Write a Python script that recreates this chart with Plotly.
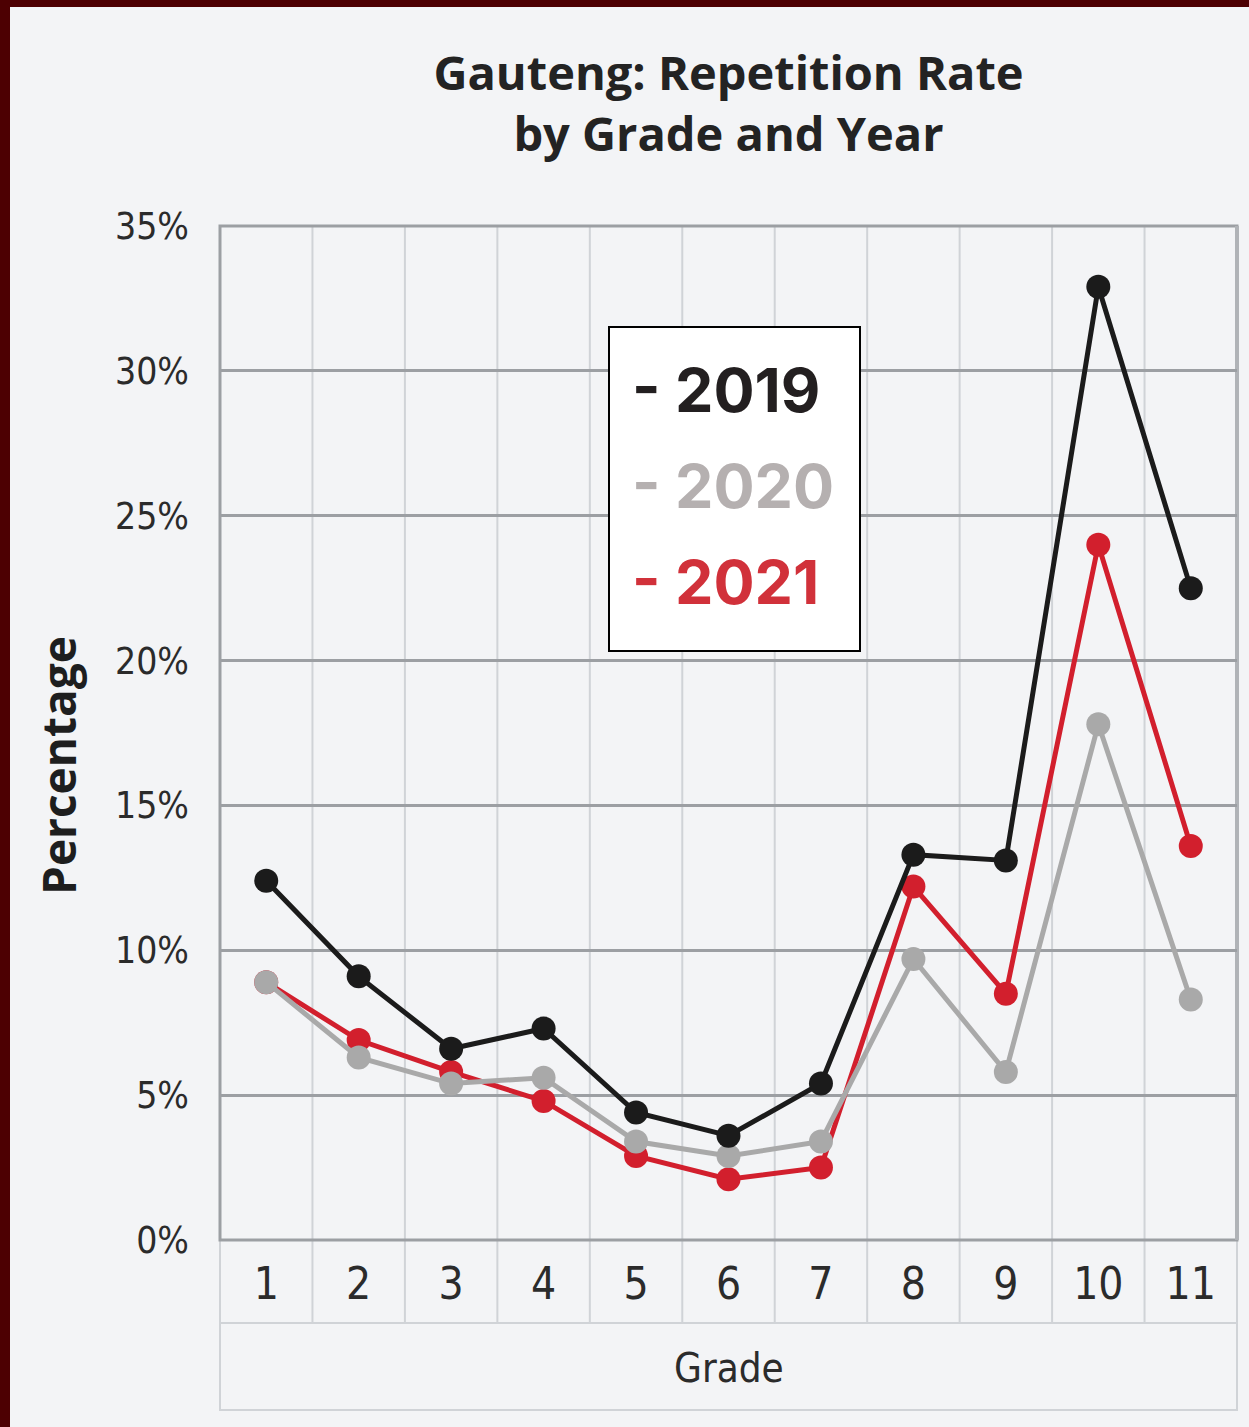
import plotly.graph_objects as go

# Repetition rate (%) by grade, Gauteng
grades = [1, 2, 3, 4, 5, 6, 7, 8, 9, 10, 11]
grade_labels = [str(g) for g in grades]
rate_2019 = [12.4, 9.1, 6.6, 7.3, 4.4, 3.6, 5.4, 13.3, 13.1, 32.9, 22.5]
rate_2020 = [8.9, 6.3, 5.4, 5.6, 3.4, 2.9, 3.4, 9.7, 5.8, 17.8, 8.3]
rate_2021 = [8.9, 6.9, 5.8, 4.8, 2.9, 2.1, 2.5, 12.2, 8.5, 24.0, 13.6]
y_ticks = [0, 5, 10, 15, 20, 25, 30, 35]

years = ["2019", "2020", "2021"]
colors = {"2019": "#1b1b1b", "2020": "#a9a9a9", "2021": "#d21f2d"}
legend_colors = {"2019": "#231f20", "2020": "#b5b0b0", "2021": "#d1313a"}
series = {"2019": rate_2019, "2020": rate_2020, "2021": rate_2021}

W, H = 1249, 1427
L, R, T, B = 220, 12, 226, 187
PW, PH = W - L - R, H - T - B


def px_x(px):
    return (px - L) / PW


def px_y(py):
    return (H - B - py) / PH


BG = "#f3f4f6"
COND = "DejaVu Sans Condensed, Liberation Sans Narrow, Arial Narrow, sans-serif"

fig = go.Figure()
for yr in ["2021", "2020", "2019"]:
    fig.add_trace(go.Scatter(
        x=grades, y=series[yr], mode="lines+markers", name=yr,
        line=dict(color=colors[yr], width=5),
        marker=dict(color=colors[yr], size=24),
        showlegend=False,
    ))

shapes = []
light = "#d0d3d7"
dark = "#9c9fa3"
# category separators, continuing down through the tick-label row
for g in grades[:-1]:
    shapes.append(dict(type="line", xref="paper", yref="paper",
                       x0=g / len(grades), x1=g / len(grades),
                       y0=px_y(1323), y1=1, layer="below",
                       line=dict(color=light, width=2)))
# tick-label row and axis-title row boxes
shapes.append(dict(type="line", xref="paper", yref="paper", x0=0, x1=1,
                   y0=px_y(1323), y1=px_y(1323), layer="below",
                   line=dict(color=light, width=2)))
shapes.append(dict(type="rect", xref="paper", yref="paper", x0=0, x1=1,
                   y0=px_y(1410), y1=0, layer="below",
                   line=dict(color=light, width=2)))
# plot frame
shapes.append(dict(type="rect", xref="paper", yref="paper", x0=0, x1=1,
                   y0=0, y1=1, layer="below",
                   line=dict(color=dark, width=3)))
shapes.append(dict(type="line", xref="paper", yref="paper", x0=1, x1=1,
                   y0=0, y1=1, layer="below",
                   line=dict(color="#b0b3b7", width=4)))
# legend box
shapes.append(dict(type="rect", xref="paper", yref="paper",
                   x0=px_x(609), x1=px_x(860), y0=px_y(651), y1=px_y(327),
                   layer="above", fillcolor="white",
                   line=dict(color="black", width=2)))
# page frame strips
shapes.append(dict(type="rect", xref="paper", yref="paper",
                   x0=px_x(-5), x1=px_x(10), y0=px_y(H + 5), y1=px_y(-5),
                   layer="above", fillcolor="#4d0002", line=dict(width=0)))
shapes.append(dict(type="rect", xref="paper", yref="paper",
                   x0=px_x(-5), x1=px_x(W + 5), y0=px_y(7), y1=px_y(-5),
                   layer="above", fillcolor="#4d0002", line=dict(width=0)))

annotations = []
for i, yr in enumerate(years):
    annotations.append(dict(
        xref="paper", yref="paper", x=px_x(630), y=px_y(390 + 96 * i),
        xanchor="left", yanchor="middle", showarrow=False,
        text=f"- {yr}",
        font=dict(family="Inter, Roboto, sans-serif", size=61,
                  color=legend_colors[yr], weight=700),
    ))
annotations.append(dict(
    xref="paper", yref="paper", x=px_x(58), y=px_y(766),
    xanchor="center", yanchor="middle", showarrow=False, textangle=-90,
    text="Percentage",
    font=dict(family="Open Sans, sans-serif", size=46, color="#1e1e1e", weight=700),
))
annotations.append(dict(
    xref="paper", yref="paper", x=0.5, y=px_y(1368),
    xanchor="center", yanchor="middle", showarrow=False,
    text="Grade",
    font=dict(family=COND, size=40, color="#2b2b2b"),
))

fig.update_layout(
    width=W, height=H,
    margin=dict(l=L, r=R, t=T, b=B),
    paper_bgcolor=BG, plot_bgcolor="rgba(0,0,0,0)",
    title=dict(
        text="Gauteng: Repetition Rate<br>by Grade and Year",
        x=0.5, xref="paper", xanchor="center",
        y=1 - 90 / H, yanchor="middle",
        font=dict(family="Open Sans, sans-serif", size=47, color="#232323", weight=700),
    ),
    xaxis=dict(range=[0.5, 11.5], tickvals=grades, ticktext=grade_labels,
               showgrid=False, zeroline=False, showline=False, ticks="",
               ticklabelstandoff=14,
               tickfont=dict(family=COND, size=44, color="#2b2b2b")),
    yaxis=dict(range=[0, 35], tickvals=y_ticks,
               ticktext=[f"{v}%" for v in y_ticks],
               showgrid=True, gridcolor=dark, gridwidth=3,
               zeroline=False, showline=False, ticks="",
               ticklabelstandoff=30,
               tickfont=dict(family=COND, size=37, color="#2b2b2b")),
    shapes=shapes, annotations=annotations,
)

fig.write_html("out.html")
